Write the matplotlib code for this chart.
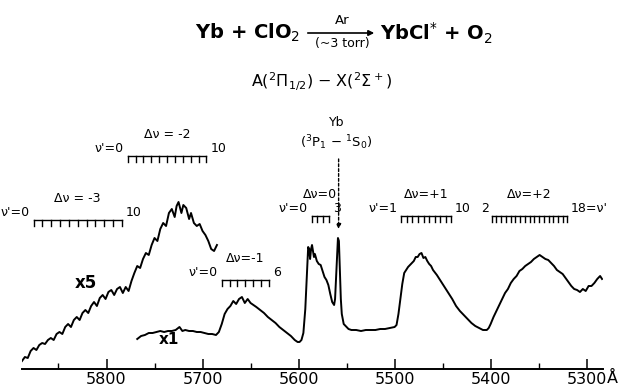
import matplotlib
matplotlib.use("Agg")
import matplotlib.pyplot as plt
from matplotlib.ticker import MultipleLocator

# ---------------- data ----------------
# x5 trace (wavelength in Angstrom, relative intensity)
x5_wl = [5888, 5885, 5882, 5879, 5876, 5873, 5870, 5867, 5864, 5861, 5858, 5855,
         5852, 5849, 5846, 5843, 5840, 5837, 5834, 5831, 5828, 5825, 5822, 5819,
         5816, 5813, 5810, 5807, 5804, 5801, 5798, 5795, 5792, 5789, 5786, 5783,
         5780, 5777, 5774, 5771, 5768, 5765, 5762, 5759, 5756, 5753, 5750, 5747,
         5744, 5741, 5738, 5735, 5732, 5729, 5727, 5725, 5722, 5720, 5717, 5714,
         5712, 5709, 5706, 5703, 5700, 5697, 5694, 5691, 5688, 5685]
x5_int = [8, 12, 11, 18, 21, 19, 24, 26, 25, 29, 31, 29,
          35, 37, 35, 42, 45, 42, 49, 52, 49, 56, 59, 56,
          63, 67, 63, 71, 74, 70, 77, 79, 74, 80, 82, 76,
          82, 78, 88, 96, 103, 101, 110, 116, 114, 124, 131, 128,
          140, 146, 143, 156, 160, 152, 163, 167, 156, 164, 161, 150,
          156, 146, 143, 145, 138, 134, 128, 120, 118, 124]

# x1 trace
x1_wl = [5768, 5764, 5760, 5756, 5752, 5748, 5744, 5740, 5736, 5732, 5728, 5724,
         5721, 5718, 5714, 5710, 5706, 5702, 5698, 5694, 5690, 5686, 5683, 5680,
         5677, 5674, 5671, 5668, 5665, 5662, 5659, 5656, 5653, 5650, 5647, 5644,
         5640, 5636, 5632, 5628, 5624, 5620, 5616, 5612, 5608, 5604, 5601, 5599,
         5597, 5595, 5593, 5591, 5590, 5589, 5588, 5587, 5586, 5585, 5584, 5583,
         5581, 5579, 5577, 5575, 5573, 5571, 5569, 5567, 5565, 5563, 5562, 5561,
         5560, 5559, 5558, 5557, 5556, 5555, 5553, 5551, 5548, 5545, 5540, 5535,
         5530, 5525, 5520, 5515, 5510, 5505, 5500, 5498, 5496, 5494, 5492, 5490,
         5488, 5486, 5484, 5482, 5480, 5478, 5476, 5474, 5472, 5470, 5468, 5466,
         5464, 5462, 5460, 5456, 5452, 5448, 5444, 5440, 5436, 5432, 5428, 5424,
         5420, 5416, 5412, 5408, 5404, 5402, 5400, 5397, 5394, 5391, 5388, 5385,
         5382, 5379, 5376, 5373, 5370, 5367, 5364, 5361, 5358, 5355, 5352, 5349,
         5346, 5343, 5340, 5337, 5334, 5331, 5328, 5325, 5322, 5319, 5316, 5313,
         5310, 5307, 5304, 5301, 5298, 5295, 5292, 5289, 5286, 5284]
x1_int = [30, 33, 34, 36, 36, 37, 38, 37, 38, 38, 39, 42,
          38, 39, 38, 38, 37, 37, 36, 35, 35, 34, 37, 45,
          55, 60, 63, 68, 65, 70, 72, 66, 70, 66, 64, 62,
          59, 56, 52, 49, 46, 42, 39, 36, 33, 29, 27, 27,
          29, 36, 60, 100, 122, 120, 110, 120, 124, 118, 112, 115,
          108, 105, 104, 98, 92, 89, 84, 75, 67, 64, 70, 90,
          110, 131, 128, 100, 70, 55, 45, 43, 40, 39, 39, 38,
          39, 39, 39, 40, 40, 41, 42, 44, 55, 70, 85, 96,
          99, 102, 104, 106, 108, 112, 112, 115, 116, 111, 112, 108,
          105, 103, 99, 94, 88, 82, 76, 70, 63, 58, 54, 50,
          46, 43, 41, 39, 39, 41, 45, 52, 58, 64, 70, 76,
          80, 86, 90, 93, 98, 100, 103, 105, 107, 110, 112, 114,
          112, 110, 109, 106, 103, 99, 97, 95, 91, 87, 83, 80,
          79, 77, 80, 78, 83, 83, 86, 90, 93, 90]

# vibrational band-head combs: label, first v', last v', start wl, end wl
comb_labels = ["Δν = -3", "Δν = -2", "Δν=-1", "Δν=0", "Δν=+1", "Δν=+2"]
comb_v_first = [0, 0, 0, 0, 1, 2]
comb_v_last = [10, 10, 6, 3, 10, 18]
comb_wl_start = [5876, 5778, 5680, 5586.5, 5493, 5399]
comb_wl_end = [5784, 5696, 5631, 5568, 5441, 5320]

yb_line_wl = 5558.3
tick_labels = ["5800", "5700", "5600", "5500", "5400", "5300"]
tick_values = [5800, 5700, 5600, 5500, 5400, 5300]

# ---------------- figure ----------------
W, H = 623, 388
fig = plt.figure(figsize=(W / 100, H / 100), dpi=100)
X0, X1, YB = 22, 603, 369
ax = fig.add_axes([X0 / W, (H - YB) / H, (X1 - X0) / W, YB / H])
ax.set_xlim(5888, 5283)
ax.set_ylim(0, YB)

ax.plot(x5_wl, x5_int, color="black", lw=1.4)
ax.plot(x1_wl, x1_int, color="black", lw=1.4)

for s in ["left", "right", "top"]:
    ax.spines[s].set_visible(False)
ax.spines["bottom"].set_linewidth(1.4)
ax.set_yticks([])
ax.set_xticks(tick_values)
ax.set_xticklabels(tick_labels)
ax.xaxis.set_minor_locator(MultipleLocator(50))
ax.tick_params(axis="x", which="major", direction="in", length=7, width=1.1,
               labelsize=11.5, pad=2)
ax.tick_params(axis="x", which="minor", direction="in", length=4, width=1.0)


def fx(x):
    return x / W


def fy(y):
    return 1 - y / H


fig.text(fx(607), fy(378), "Å", ha="left", va="center", fontsize=11.5)

# combs
comb_h = [149, 213, 89, 153, 153, 153]
FS = 9
for i in range(len(comb_labels)):
    a, b = comb_wl_start[i], comb_wl_end[i]
    h = comb_h[i]
    n = comb_v_last[i] - comb_v_first[i] + 1
    ax.plot([a, b], [h, h], color="black", lw=1.0, clip_on=False)
    for k in range(n):
        t = a + (b - a) * k / (n - 1)
        ax.plot([t, t], [h, h - 6], color="black", lw=1.0, clip_on=False)
    mid = (a + b) / 2
    ax.text(mid, h + 22, comb_labels[i], ha="center", va="center", fontsize=FS)
    if i == 5:
        ax.text(a + 3, h + 8, str(comb_v_first[i]), ha="right", va="center", fontsize=FS)
        ax.text(b - 3, h + 8, f"{comb_v_last[i]}=ν'", ha="left", va="center", fontsize=FS)
    else:
        ax.text(a + 4, h + 8, f"ν'={comb_v_first[i]}", ha="right", va="center", fontsize=FS)
        ax.text(b - 4, h + 8, str(comb_v_last[i]), ha="left", va="center", fontsize=FS)

# Yb atomic line annotation
ax.text(yb_line_wl + 2, 246, "Yb", ha="center", va="center", fontsize=9)
ax.text(yb_line_wl + 2, 226, r"($^3$P$_1$ $-$ $^1$S$_0$)", ha="center", va="center", fontsize=9.5)
ax.annotate("", xy=(yb_line_wl, 140), xytext=(yb_line_wl, 210),
            arrowprops=dict(arrowstyle="-|>", linestyle=(0, (2, 1.5)), lw=1.0,
                            color="black", mutation_scale=7, shrinkA=0, shrinkB=0))

# scale labels
ax.text(5821, 86, "x5", ha="center", va="center", fontsize=12, fontweight="bold")
ax.text(5735, 29, "x1", ha="center", va="center", fontsize=11, fontweight="bold")

# title (reaction)
fig.text(fx(248), fy(33), r"Yb + ClO$_2$", ha="center", va="center",
         fontsize=14, fontweight="bold")
fig.text(fx(342), fy(20), "Ar", ha="center", va="center", fontsize=9.5)
fig.text(fx(342), fy(44), "(~3 torr)", ha="center", va="center", fontsize=9)
fig.patches.append(matplotlib.patches.FancyArrowPatch(
    (fx(305), fy(33)), (fx(377), fy(33)), transform=fig.transFigure,
    arrowstyle="-|>", mutation_scale=8, lw=1.2, color="black"))
fig.text(fx(436), fy(33), r"YbCl$^{*}$ + O$_2$", ha="center", va="center",
         fontsize=14, fontweight="bold")
fig.text(fx(322), fy(82), r"A($^2\Pi_{1/2}$) $-$ X($^2\Sigma^+$)", ha="center",
         va="center", fontsize=11.5)

fig.savefig("out.png", dpi=100)
